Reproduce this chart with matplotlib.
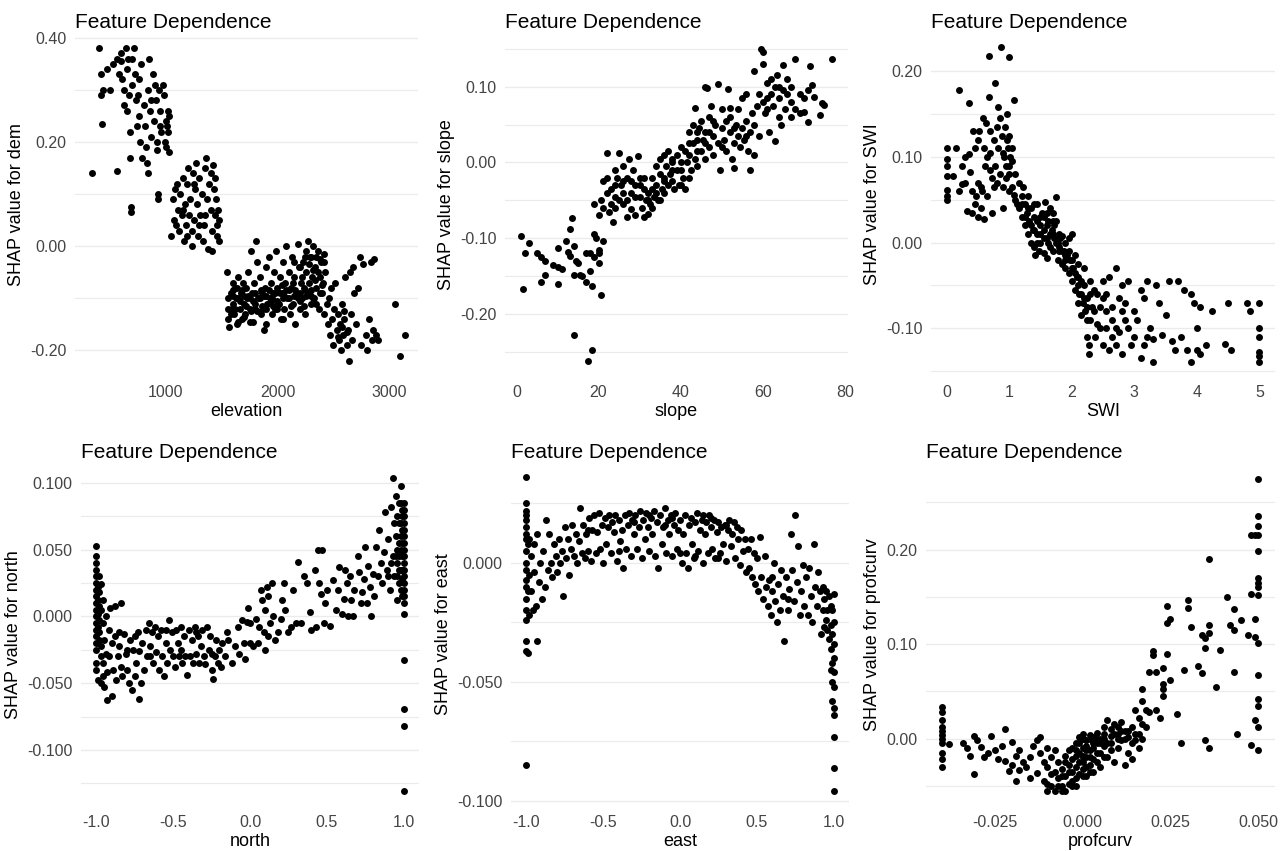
import matplotlib
matplotlib.use("Agg")
import matplotlib.pyplot as plt
from matplotlib.ticker import FixedLocator, FormatStrFormatter

plt.rcParams['font.family'] = ['Liberation Sans', 'DejaVu Sans']
plt.rcParams['axes.unicode_minus'] = False

# ---- data: (feature value, SHAP value) ----
elev_pts = [
    (336, 0.14), (400, 0.38), (420, 0.29), (420, 0.33), (430, 0.235), (440, 0.30), (470, 0.34), (500, 0.30),
    (530, 0.35), (560, 0.36), (560, 0.145), (580, 0.33), (600, 0.37), (600, 0.355), (610, 0.32), (620, 0.27),
    (640, 0.38), (650, 0.34), (650, 0.26), (660, 0.36), (670, 0.29), (680, 0.22), (680, 0.17), (690, 0.075),
    (690, 0.065), (700, 0.36), (700, 0.31), (710, 0.38), (720, 0.33), (730, 0.28), (740, 0.23), (750, 0.29),
    (760, 0.25), (770, 0.20), (780, 0.35), (790, 0.17), (800, 0.27), (810, 0.23), (820, 0.19), (830, 0.16),
    (840, 0.30), (840, 0.14), (850, 0.36), (860, 0.26), (870, 0.21), (880, 0.33), (890, 0.24), (900, 0.31),
    (910, 0.28), (920, 0.20), (920, 0.185), (930, 0.10), (930, 0.09), (940, 0.30), (950, 0.26), (960, 0.22),
    (970, 0.31), (980, 0.29), (990, 0.20), (1000, 0.24), (1000, 0.19), (1010, 0.23), (1020, 0.26), (1020, 0.22),
    (1030, 0.25), (1030, 0.18), (620, 0.30), (760, 0.32), (870, 0.28), (950, 0.23),
    (1050, 0.02), (1060, 0.09), (1070, 0.05), (1080, 0.11), (1090, 0.04), (1100, 0.12), (1110, 0.07), (1120, 0.03),
    (1130, 0.10), (1140, 0.06), (1150, 0.13), (1160, 0.01), (1170, 0.08), (1180, 0.04), (1190, 0.12), (1200, 0.15),
    (1210, 0.06), (1220, 0.09), (1230, 0.00), (1230, 0.03), (1240, 0.14), (1250, 0.05), (1260, 0.11), (1270, 0.16),
    (1280, 0.08), (1290, 0.02), (1300, 0.13), (1310, 0.06), (1320, 0.10), (1330, 0.01), (1340, 0.04), (1350, 0.15),
    (1360, 0.17), (1370, 0.09), (1380, -0.005), (1390, 0.12), (1400, 0.07), (1410, 0.03), (1420, 0.155), (1430, 0.11),
    (1440, 0.06), (1450, 0.09), (1460, 0.02), (1470, 0.07), (1480, 0.05), (1480, 0.01), (1440, 0.13), (1400, 0.14),
    (1410, -0.01), (1300, 0.04), (1150, 0.07), (1250, 0.12), (1350, 0.06), (1460, 0.04), (1190, 0.02),
    (1550, -0.05), (1560, -0.10), (1560, -0.14), (1570, -0.155), (1580, -0.09), (1590, -0.12), (1600, -0.07),
    (1600, -0.11), (1610, -0.13), (1620, -0.08), (1630, -0.10), (1640, -0.15), (1650, -0.06), (1660, -0.12),
    (1670, -0.09), (1680, -0.14), (1690, -0.07), (1700, -0.11), (1710, -0.13), (1720, -0.08), (1730, -0.10),
    (1740, -0.05), (1750, -0.12), (1760, -0.01), (1770, -0.09), (1780, -0.145), (1790, -0.07), (1800, -0.11),
    (1810, 0.01), (1820, -0.03), (1830, -0.10), (1840, -0.06), (1850, -0.13), (1860, -0.09), (1870, -0.12),
    (1880, -0.16), (1890, -0.08), (1900, -0.04), (1910, -0.11), (1920, -0.02), (1930, -0.10), (1940, -0.07),
    (1950, -0.13), (1960, -0.09), (1970, -0.05), (1980, -0.12), (1990, -0.01), (2000, -0.08), (2010, -0.11),
    (2020, -0.06), (2030, -0.14), (2040, -0.09), (2050, -0.03), (2060, -0.12), (2070, -0.07), (2080, 0.00),
    (2090, -0.10), (2100, -0.05), (2110, -0.13), (2120, -0.08), (2130, -0.02), (2140, -0.11), (2150, -0.06),
    (2160, -0.15), (2170, -0.09), (2180, 0.005), (2190, -0.04), (2200, -0.12), (2210, -0.07), (2220, -0.10),
    (2230, -0.03), (2240, -0.08), (2250, -0.13), (2260, -0.05), (2270, 0.01), (2280, -0.09), (2290, -0.02),
    (2300, -0.11), (2310, -0.06), (2320, 0.00), (2330, -0.10), (2340, -0.04), (2350, -0.08), (2360, -0.01),
    (2370, -0.12), (2380, -0.06), (2390, -0.03), (2400, -0.09), (2410, -0.07), (2420, -0.13), (2430, -0.05),
    (2440, -0.11), (1560, -0.12), (1580, -0.13), (1600, -0.095), (1620, -0.12), (1640, -0.08), (1660, -0.105),
    (1680, -0.085), (1700, -0.135), (1720, -0.115), (1740, -0.095), (1760, -0.125), (1780, -0.105), (1800, -0.09),
    (1820, -0.125), (1840, -0.10), (1860, -0.115), (1880, -0.095), (1900, -0.12), (1920, -0.085), (1940, -0.105),
    (1960, -0.115), (1980, -0.09), (2000, -0.105), (2020, -0.09), (2040, -0.075), (2060, -0.095), (2080, -0.085),
    (2100, -0.10), (2120, -0.115), (2140, -0.07), (2160, -0.085), (2180, -0.10), (2200, -0.09), (2220, -0.06),
    (2240, -0.115), (2260, -0.095), (2280, -0.07), (2300, -0.085), (2320, -0.10), (2340, -0.065), (2360, -0.05),
    (2380, -0.09), (2400, -0.075), (2420, -0.03), (2300, -0.02), (2260, -0.01), (2200, -0.04), (2150, -0.03),
    (2350, -0.02), (2420, -0.015), (1900, -0.15), (2050, -0.14), (1750, -0.145), (1650, -0.145),
    (1600, -0.085), (1650, -0.10), (1700, -0.095), (1750, -0.10), (1800, -0.12), (1850, -0.085), (1900, -0.095),
    (1950, -0.10), (2000, -0.12), (2050, -0.10), (2100, -0.085), (2150, -0.095), (2200, -0.105), (2250, -0.085),
    (2300, -0.095), (2350, -0.11), (2250, -0.02), (2280, -0.035), (2320, -0.045), (2380, -0.025),
    (2450, -0.15), (2460, -0.10), (2470, -0.17), (2480, -0.08), (2490, -0.14), (2500, -0.19), (2510, -0.12),
    (2520, -0.07), (2530, -0.16), (2540, -0.13), (2550, -0.18), (2560, -0.15), (2570, -0.20), (2580, -0.11),
    (2590, -0.17), (2600, -0.14), (2610, -0.06), (2620, -0.19), (2630, -0.16), (2640, -0.22), (2650, -0.05),
    (2660, -0.13), (2670, -0.18), (2680, -0.04), (2690, -0.09), (2700, -0.15), (2720, -0.08), (2740, -0.02),
    (2750, -0.19), (2770, -0.035), (2790, -0.17), (2800, -0.20), (2820, -0.14), (2840, -0.03), (2850, -0.18),
    (2860, -0.16), (2870, -0.025), (2880, -0.17), (2900, -0.18), (3050, -0.11), (3100, -0.21), (3140, -0.17),
    (2580, -0.155), (2620, -0.165), (2540, -0.175), (2600, -0.125),
]

slope_pts = [
    (1, -0.097), (1.5, -0.167), (2, -0.12), (3, -0.106), (5, -0.12), (6, -0.125), (6, -0.158), (7, -0.13),
    (7, -0.148), (9, -0.135), (10, -0.113), (10, -0.16), (10, -0.138), (11, -0.14), (12, -0.103), (12.5, -0.118),
    (13, -0.088), (13, -0.123), (13.5, -0.073), (14, -0.11), (14, -0.148), (14.5, -0.13), (15, -0.132),
    (15.5, -0.148), (16, -0.15), (17, -0.158), (17, -0.12), (18, -0.12), (18, -0.143), (18.5, -0.163),
    (19, -0.095), (19, -0.125), (19.5, -0.10), (20, -0.133), (20, -0.12), (20, -0.115), (20.5, -0.175),
    (21, -0.103), (19, -0.055), (14, -0.228), (18.5, -0.248), (17.5, -0.262),
    (20, -0.07), (20.5, -0.05), (21, -0.06), (21, -0.025), (22, -0.04), (22, 0.013), (22.5, -0.065),
    (23, -0.035), (23, -0.055), (23.5, -0.078), (24, -0.01), (24, -0.045), (24.5, -0.02), (25, 0.012),
    (25, -0.05), (25.5, -0.03), (26, -0.005), (26, -0.055), (27, -0.02), (27, -0.072), (27.5, 0.005),
    (28, -0.04), (28, -0.062), (28.5, -0.01), (29, -0.03), (29, -0.07), (29.5, 0.008), (30, -0.045),
    (30, -0.02), (30.5, -0.06), (31, -0.035), (31, -0.072), (31.5, -0.05), (32, -0.04), (32, -0.068),
    (32.5, -0.055), (33, -0.02), (33, -0.06), (33.5, -0.045), (34, -0.005), (34, -0.03), (34.5, -0.05),
    (35, -0.015), (35, 0.005), (35.5, -0.035), (36, -0.02), (36, 0.01), (36.5, -0.005), (37, -0.03),
    (37, 0.015), (37.5, -0.015), (38, -0.025), (38, 0.005), (38.5, -0.035), (39, 0.01), (39, -0.01),
    (39.5, -0.03), (40, 0.0), (40, 0.02), (40.5, -0.02), (41, 0.015), (41, -0.035), (41.5, 0.0),
    (42, 0.04), (42, 0.01), (42.5, -0.01), (43, 0.025), (43, 0.05), (43.5, 0.005), (44, 0.03),
    (44, -0.005), (44.5, 0.045), (45, 0.015), (45, 0.055), (45.5, 0.03), (46, 0.005), (46, 0.04),
    (46.5, 0.098), (47, 0.02), (47, 0.06), (47.5, 0.075), (48, 0.035), (48, 0.01), (48.5, 0.05),
    (49, 0.103), (49, 0.025), (49.5, -0.01), (50, 0.045), (50, 0.07), (50.5, 0.03), (51, 0.055),
    (51, 0.015), (51.5, 0.097), (52, 0.04), (52, 0.06), (52.5, 0.005), (53, 0.025), (53, -0.008),
    (53.5, 0.05), (54, 0.035), (54, 0.07), (54.5, 0.02), (55, 0.045), (55, 0.085), (55.5, 0.03),
    (56, 0.055), (56, 0.09), (56.5, 0.015), (57, 0.04), (57, -0.01), (57.5, 0.065), (58, 0.01),
    (58, 0.12), (58.5, 0.075), (59, 0.09), (59, 0.035), (59.5, 0.15), (60, 0.145), (60, 0.08),
    (60.5, 0.065), (61, 0.105), (61, 0.07), (61.5, 0.04), (62, 0.09), (62, 0.11), (62.5, 0.075),
    (63, 0.10), (63, 0.028), (63.5, 0.115), (64, 0.06), (64, 0.085), (64.5, 0.05), (65, 0.128),
    (65, 0.095), (65.5, 0.07), (66, 0.09), (66, 0.11), (67, 0.06), (67, 0.08), (68, 0.137), (68, 0.07),
    (69, 0.09), (69, 0.065), (70, 0.085), (70, 0.066), (71, 0.053), (71, 0.096), (71.5, 0.127),
    (72, 0.102), (72.5, 0.086), (74, 0.062), (74.5, 0.079), (75, 0.076), (77, 0.137), (60, 0.13),
    (46, 0.10), (43.5, 0.072), (52, 0.072), (26, -0.025), (29, -0.045), (31, -0.02), (33, -0.035),
    (36, -0.04), (38, -0.01), (40, -0.03), (42, -0.02), (44, 0.015), (47, 0.04), (50, 0.02), (53, 0.045),
    (56, 0.035), (58, 0.05), (61, 0.085), (64, 0.1), (67, 0.1), (24, -0.06), (22, -0.02), (35, -0.05),
    (30, -0.03), (32, -0.05), (34, -0.04), (36, -0.025), (38, 0.0), (40, -0.01), (42, 0.025), (44, 0.04),
    (46, 0.025), (48, 0.055), (28, -0.025), (26, -0.04), (24, -0.03), (27, -0.05),
]

swi_pts = [
    (0.0, 0.11), (0.0, 0.098), (0.0, 0.09), (0.0, 0.078), (0.0, 0.062), (0.0, 0.055), (0.0, 0.05), (0.1, 0.078),
    (0.15, 0.11), (0.2, 0.178), (0.2, 0.06), (0.25, 0.09), (0.25, 0.068), (0.3, 0.07), (0.3, 0.10), (0.33, 0.037),
    (0.35, 0.163), (0.35, 0.103), (0.38, 0.083), (0.4, 0.06), (0.4, 0.035), (0.42, 0.13), (0.45, 0.045),
    (0.45, 0.11), (0.47, 0.055), (0.5, 0.12), (0.5, 0.03), (0.5, 0.07), (0.52, 0.13), (0.55, 0.04),
    (0.57, 0.06), (0.58, 0.145), (0.6, 0.11), (0.6, 0.028), (0.62, 0.09), (0.63, 0.14), (0.65, 0.055),
    (0.65, 0.10), (0.67, 0.218), (0.68, 0.17), (0.7, 0.085), (0.7, 0.13), (0.72, 0.035), (0.72, 0.075),
    (0.75, 0.12), (0.75, 0.065), (0.78, 0.186), (0.78, 0.09), (0.8, 0.135), (0.8, 0.07), (0.82, 0.158),
    (0.82, 0.11), (0.85, 0.145), (0.85, 0.08), (0.87, 0.228), (0.88, 0.125), (0.9, 0.04), (0.9, 0.065),
    (0.92, 0.10), (0.93, 0.135), (0.95, 0.09), (0.97, 0.15), (0.98, 0.11), (1.0, 0.217), (1.0, 0.08),
    (1.0, 0.125), (1.02, 0.10), (1.05, 0.065), (1.05, 0.095), (1.07, 0.056), (1.08, 0.166), (1.1, 0.05),
    (1.1, 0.08), (1.12, 0.045), (0.96, 0.12), (0.9, 0.105), (1.0, 0.09), (0.7, 0.105), (0.55, 0.065),
    (1.15, 0.07), (1.15, 0.04), (1.2, 0.055), (1.2, 0.03), (1.22, 0.065), (1.25, 0.045), (1.25, 0.02),
    (1.28, 0.035), (1.3, 0.01), (1.3, 0.055), (1.32, 0.025), (1.35, 0.0), (1.35, 0.04), (1.38, 0.015),
    (1.4, -0.005), (1.4, 0.03), (1.42, -0.015), (1.45, 0.01), (1.45, 0.045), (1.48, -0.01), (1.5, 0.02),
    (1.5, 0.0), (1.52, 0.035), (1.55, -0.012), (1.55, 0.015), (1.58, 0.048), (1.6, 0.005), (1.6, -0.018),
    (1.62, 0.025), (1.65, 0.04), (1.65, -0.005), (1.68, 0.015), (1.7, 0.035), (1.7, -0.01), (1.72, 0.02),
    (1.75, 0.0), (1.75, 0.053), (1.78, -0.02), (1.8, 0.01), (1.8, -0.01), (1.82, 0.005), (1.85, -0.025),
    (1.85, 0.008), (1.88, -0.01), (1.9, -0.03), (1.9, 0.0), (1.92, -0.015), (1.95, -0.035), (1.95, 0.005),
    (1.98, -0.02), (2.0, -0.045), (2.0, 0.01), (2.02, -0.03), (2.05, -0.055), (2.05, -0.015), (2.08, -0.04),
    (2.1, -0.07), (2.1, -0.025), (2.12, -0.06), (2.15, -0.045), (2.15, -0.085), (2.18, -0.07), (2.2, -0.03),
    (2.2, -0.05), (2.22, -0.08), (2.25, -0.11), (2.25, -0.065), (2.27, -0.13), (2.28, -0.12), (2.3, -0.045),
    (2.3, -0.09), (2.32, -0.075), (2.35, -0.055), (2.38, -0.11), (2.4, -0.06), (2.4, -0.095),
    (1.3, 0.04), (1.45, 0.025), (1.55, 0.005), (1.6, 0.02), (1.7, 0.01), (1.8, -0.005), (1.9, -0.015),
    (2.0, -0.02), (2.1, -0.04), (2.2, -0.065), (1.4, 0.015), (1.5, 0.03), (1.65, 0.01), (1.75, 0.025),
    (1.2, 0.045), (1.25, 0.03), (1.35, 0.02), (1.4, 0.045), (1.45, 0.0), (1.5, 0.01), (1.55, 0.03),
    (1.6, 0.035), (1.62, 0.0), (1.7, 0.025), (1.72, 0.005), (1.78, 0.0), (1.85, -0.01), (1.9, -0.02),
    (1.95, -0.01), (2.0, -0.03), (2.05, -0.035), (2.1, -0.05), (2.15, -0.06), (2.25, -0.075), (2.25, -0.09),
    (2.3, -0.06), (2.35, -0.08), (2.45, -0.10), (2.55, -0.08), (2.65, -0.09), (2.7, -0.10), (2.8, -0.08),
    (2.5, -0.065), (1.0, 0.06), (1.05, 0.11), (0.95, 0.075),
    (2.45, -0.075), (2.5, -0.12), (2.5, -0.045), (2.55, -0.10), (2.55, -0.06), (2.6, -0.125), (2.6, -0.04),
    (2.65, -0.11), (2.65, -0.075), (2.7, -0.03), (2.7, -0.12), (2.75, -0.065), (2.75, -0.105), (2.8, -0.05),
    (2.8, -0.13), (2.85, -0.09), (2.85, -0.07), (2.9, -0.10), (2.9, -0.045), (2.95, -0.12), (3.0, -0.08),
    (3.0, -0.11), (3.05, -0.09), (3.1, -0.055), (3.1, -0.135), (3.15, -0.065), (3.15, -0.12), (3.2, -0.045),
    (3.2, -0.11), (3.25, -0.10), (3.3, -0.14), (3.3, -0.113), (3.35, -0.05), (3.4, -0.07), (3.45, -0.108),
    (3.5, -0.085), (3.55, -0.045), (3.6, -0.115), (3.65, -0.125), (3.7, -0.045), (3.75, -0.11), (3.8, -0.055),
    (3.85, -0.125), (3.9, -0.06), (3.9, -0.14), (3.95, -0.07), (4.0, -0.10), (4.0, -0.125), (4.05, -0.075),
    (4.05, -0.13), (4.15, -0.12), (4.25, -0.08), (4.45, -0.118), (4.5, -0.07), (4.55, -0.125), (4.8, -0.07),
    (4.85, -0.08), (5.0, -0.07), (5.0, -0.10), (5.0, -0.11), (5.0, -0.128), (5.0, -0.132), (5.0, -0.14),
]

north_pts = [
    (-1, 0.053), (-1, 0.04), (-1, 0.035), (-1, 0.025), (-1, 0.02), (-1, 0.015), (-1, 0.01), (-1, 0.005),
    (-1, 0.0), (-1, -0.005), (-1, -0.01), (-1, -0.015), (-1, -0.02), (-1, -0.025), (-0.99, -0.048),
    (-0.98, 0.018), (-0.98, 0.008), (-0.98, -0.003), (-0.98, -0.012), (-0.97, -0.022), (-0.97, -0.05),
    (-0.97, 0.024), (-0.96, 0.012), (-0.96, -0.005), (-0.96, -0.035), (-0.95, -0.018), (-0.95, -0.053),
    (-0.94, 0.0), (-0.94, -0.028), (-0.93, -0.042), (-0.93, -0.063), (-0.92, -0.01), (-0.92, -0.03),
    (-0.91, 0.006), (-0.90, -0.02), (-0.90, -0.06), (-0.89, -0.04), (-0.88, 0.008), (-0.88, -0.015),
    (-0.87, -0.048), (-0.86, -0.03), (-0.85, -0.022), (-0.84, 0.01), (-0.84, -0.038), (-0.83, -0.045),
    (-0.82, -0.013), (-0.81, -0.028), (-0.80, -0.04), (-0.79, -0.05), (-0.78, -0.018), (-0.77, -0.055),
    (-0.76, -0.025), (-0.75, -0.045), (-0.74, -0.035), (-0.73, -0.012), (-0.72, -0.062), (-0.72, -0.026),
    (-0.71, -0.05), (-0.70, -0.02), (-0.69, -0.04), (-0.68, -0.01), (-0.67, -0.03), (-0.66, -0.005),
    (-0.65, -0.022), (-0.64, -0.012), (-0.63, -0.035), (-0.62, -0.008), (-0.61, -0.027), (-0.60, -0.015),
    (-0.59, -0.04), (-0.58, -0.01), (-0.57, -0.03), (-0.56, -0.045), (-0.55, -0.02), (-0.54, -0.035),
    (-0.53, -0.003), (-0.52, -0.025), (-0.51, -0.012), (-0.50, -0.03), (-0.49, -0.038), (-0.48, -0.01),
    (-0.47, -0.02), (-0.46, -0.03), (-0.45, -0.008), (-0.44, -0.035), (-0.43, -0.015), (-0.42, -0.03),
    (-0.41, -0.044), (-0.40, -0.01), (-0.39, -0.03), (-0.38, -0.018), (-0.37, -0.035), (-0.36, -0.008),
    (-0.35, -0.028), (-0.34, -0.015), (-0.33, -0.035), (-0.32, -0.022), (-0.31, -0.01), (-0.30, -0.03),
    (-0.29, -0.036), (-0.28, -0.008), (-0.27, -0.025), (-0.26, -0.015), (-0.25, -0.04), (-0.24, -0.047),
    (-0.23, -0.03), (-0.22, -0.018), (-0.21, -0.035), (-0.20, -0.025), (-0.19, -0.038), (-0.18, -0.02),
    (-0.16, -0.03), (-0.14, -0.018), (-0.12, -0.035), (-0.10, -0.022), (-0.08, -0.008), (-0.07, -0.028),
    (-0.05, -0.003), (-0.04, -0.02), (-0.03, -0.032), (-0.02, -0.004), (-0.01, 0.006), (0.0, -0.02),
    (0.0, -0.005), (0.02, -0.022), (0.04, -0.002), (0.05, -0.02), (0.06, -0.008), (0.07, 0.02),
    (0.08, 0.012), (0.09, -0.012), (0.10, 0.005), (0.10, -0.025), (0.11, 0.022), (0.12, 0.015),
    (0.12, -0.015), (0.13, -0.005), (0.14, 0.025), (0.15, 0.0), (0.16, -0.018), (0.18, -0.012),
    (0.20, -0.002), (0.21, 0.012), (0.22, 0.025), (0.23, 0.005), (0.25, -0.012), (0.27, -0.008),
    (0.28, 0.02), (0.30, -0.005), (0.31, 0.041), (0.33, -0.005), (0.35, 0.03), (0.37, 0.025), (0.39, 0.003),
    (0.40, -0.01), (0.42, 0.035), (0.43, -0.008), (0.44, 0.05), (0.45, 0.025), (0.46, 0.017), (0.47, 0.05),
    (0.48, -0.005), (0.49, 0.01), (0.50, 0.02), (0.52, -0.007), (0.54, 0.027), (0.56, 0.005), (0.57, 0.02),
    (0.58, 0.037), (0.60, 0.002), (0.61, 0.013), (0.62, 0.035), (0.63, 0.025), (0.64, 0.0), (0.65, 0.03),
    (0.66, 0.012), (0.67, 0.0), (0.68, 0.02), (0.70, 0.045), (0.71, 0.033), (0.72, 0.01), (0.73, 0.018),
    (0.74, 0.028), (0.75, 0.052), (0.76, 0.01), (0.77, 0.038), (0.78, 0.022), (0.79, 0.0), (0.80, 0.032),
    (0.81, 0.015), (0.82, 0.052), (0.83, 0.03), (0.84, 0.065), (0.85, 0.04), (0.86, 0.025), (0.87, 0.048),
    (0.88, 0.078), (0.89, 0.035), (0.90, 0.058), (0.91, 0.02), (0.92, 0.082), (0.93, 0.045), (0.93, 0.104),
    (0.94, 0.03), (0.95, 0.09), (0.95, 0.06), (0.96, 0.04), (0.96, 0.012), (0.97, 0.07), (0.97, 0.085),
    (0.97, 0.025), (0.98, 0.098), (0.98, 0.05), (0.98, 0.035), (0.99, 0.065), (0.99, 0.015), (0.99, 0.045),
    (1.0, 0.085), (1.0, 0.075), (1.0, 0.06), (1.0, 0.055), (1.0, 0.05), (1.0, 0.04), (1.0, 0.03),
    (1.0, 0.02), (1.0, 0.01), (1.0, 0.0015), (1.0, -0.033), (1.0, -0.069), (1.0, -0.082), (1.0, -0.131),
    (0.99, 0.08), (0.98, 0.07), (0.99, 0.028), (0.97, 0.055), (0.96, 0.075), (-0.99, 0.012), (-0.99, -0.008),
    (-0.98, -0.018), (-0.99, 0.002), (-0.97, 0.005), (-0.85, -0.012), (-0.80, -0.025), (-0.75, -0.015),
    (-0.65, -0.03), (-0.55, -0.01), (-0.45, -0.025), (-0.35, -0.012), (-0.25, -0.028), (-0.15, -0.012),
    (1.0, 0.08), (1.0, 0.07), (1.0, 0.065), (1.0, 0.045), (1.0, 0.035), (1.0, 0.025), (1.0, 0.015),
    (0.99, 0.055), (0.99, 0.035), (0.99, 0.075), (0.98, 0.06), (0.98, 0.085), (0.98, 0.02), (0.97, 0.045),
    (0.97, 0.035), (0.96, 0.05), (0.96, 0.03), (0.95, 0.045), (0.94, 0.07), (0.92, 0.04), (0.90, 0.03),
    (-1, 0.045), (-1, 0.03), (-1, -0.035), (-1, -0.04), (-0.99, 0.022), (-0.99, -0.02), (-0.98, 0.03),
    (-0.97, -0.03), (-0.96, -0.045),
]

east_pts = [
    (-1, 0.036), (-1, 0.025), (-1, 0.022), (-1, 0.02), (-1, 0.018), (-1, 0.012), (-1, 0.01), (-1, 0.005),
    (-1, 0.0), (-1, -0.003), (-1, -0.007), (-1, -0.01), (-1, -0.015), (-1, -0.024), (-1, -0.033),
    (-1, -0.037), (-0.99, -0.038), (-1, -0.085), (-0.98, 0.01), (-0.97, 0.003), (-0.97, -0.012),
    (-0.96, -0.02), (-0.95, 0.008), (-0.95, -0.004), (-0.94, -0.018), (-0.93, 0.012), (-0.93, -0.033),
    (-0.92, -0.008), (-0.91, 0.0), (-0.90, -0.015), (-0.89, 0.005), (-0.88, -0.01), (-0.87, 0.018),
    (-0.86, -0.003), (-0.85, 0.012), (-0.84, 0.0), (-0.83, -0.006), (-0.82, 0.008), (-0.81, 0.003),
    (-0.80, -0.004), (-0.79, 0.01), (-0.78, 0.0), (-0.77, 0.005), (-0.76, -0.014), (-0.75, 0.015),
    (-0.74, 0.002), (-0.73, 0.01), (-0.72, -0.005), (-0.71, 0.006), (-0.70, 0.016), (-0.69, 0.003),
    (-0.68, 0.012), (-0.67, 0.0), (-0.66, 0.009), (-0.65, 0.023), (-0.64, 0.004), (-0.63, 0.016),
    (-0.62, 0.002), (-0.61, 0.012), (-0.60, 0.005), (-0.59, 0.019), (-0.58, 0.001), (-0.57, 0.014),
    (-0.56, 0.02), (-0.55, 0.004), (-0.54, 0.013), (-0.53, 0.021), (-0.52, 0.006), (-0.51, 0.016),
    (-0.50, 0.0), (-0.49, 0.019), (-0.48, 0.008), (-0.47, 0.015), (-0.46, 0.02), (-0.45, 0.004),
    (-0.44, 0.017), (-0.43, 0.013), (-0.42, 0.02), (-0.41, 0.001), (-0.40, 0.018), (-0.39, 0.009),
    (-0.38, 0.014), (-0.37, -0.002), (-0.36, 0.02), (-0.35, 0.006), (-0.34, 0.016), (-0.33, 0.021),
    (-0.32, 0.003), (-0.31, 0.018), (-0.30, 0.012), (-0.29, 0.02), (-0.28, 0.006), (-0.27, 0.015),
    (-0.26, 0.022), (-0.25, 0.002), (-0.24, 0.018), (-0.23, 0.01), (-0.22, 0.021), (-0.21, 0.015),
    (-0.20, 0.005), (-0.19, 0.019), (-0.18, 0.012), (-0.17, 0.022), (-0.16, 0.003), (-0.15, 0.017),
    (-0.14, -0.002), (-0.13, 0.02), (-0.12, 0.008), (-0.11, 0.015), (-0.10, 0.023), (-0.09, 0.004),
    (-0.08, 0.018), (-0.07, 0.012), (-0.06, 0.02), (-0.05, 0.003), (-0.04, 0.016), (-0.03, 0.021),
    (-0.02, 0.006), (-0.01, 0.014), (0.0, 0.018), (0.01, 0.0), (0.02, 0.012), (0.03, 0.02), (0.04, 0.004),
    (0.05, -0.002), (0.06, 0.016), (0.07, 0.019), (0.08, 0.008), (0.09, 0.002), (0.10, 0.017), (0.11, 0.021),
    (0.12, 0.005), (0.13, 0.014), (0.14, 0.018), (0.15, 0.0), (0.16, 0.012), (0.17, 0.017), (0.18, 0.004),
    (0.19, 0.02), (0.20, 0.015), (0.21, 0.006), (0.22, 0.018), (0.23, 0.002), (0.24, 0.013), (0.25, 0.017),
    (0.26, 0.004), (0.27, 0.015), (0.28, 0.008), (0.29, 0.016), (0.30, 0.001), (0.31, 0.014), (0.32, 0.018),
    (0.33, 0.007), (0.34, 0.012), (0.35, 0.017), (0.36, 0.002), (0.37, 0.015), (0.38, 0.01), (0.39, -0.001),
    (0.40, 0.014), (0.41, 0.005), (0.42, 0.01), (0.43, -0.004), (0.44, 0.006), (0.45, -0.002), (0.46, 0.01),
    (0.47, -0.006), (0.48, 0.004), (0.49, -0.009), (0.50, 0.002), (0.51, -0.012), (0.52, 0.011),
    (0.53, -0.006), (0.54, -0.015), (0.55, 0.003), (0.56, -0.01), (0.57, -0.018), (0.58, -0.007),
    (0.59, -0.022), (0.60, -0.012), (0.61, 0.0), (0.62, -0.016), (0.63, -0.025), (0.64, -0.009),
    (0.65, -0.02), (0.66, -0.003), (0.67, -0.014), (0.68, -0.033), (0.69, -0.006), (0.70, -0.02),
    (0.71, -0.011), (0.72, 0.012), (0.73, -0.003), (0.74, -0.016), (0.75, 0.02), (0.76, -0.008),
    (0.77, 0.007), (0.78, -0.022), (0.79, -0.012), (0.80, -0.001), (0.81, -0.018), (0.82, -0.006),
    (0.83, -0.022), (0.84, -0.002), (0.85, -0.014), (0.86, -0.025), (0.87, 0.008), (0.88, -0.01),
    (0.89, -0.018), (0.90, -0.004), (0.91, -0.012), (0.92, -0.03), (0.93, -0.02), (0.94, -0.015),
    (0.95, -0.024), (0.96, -0.028), (0.97, -0.032), (0.97, -0.014), (0.98, -0.036), (0.98, -0.045),
    (0.98, -0.026), (0.99, -0.042), (0.99, -0.05), (0.99, -0.03), (1.0, -0.013), (1.0, -0.034),
    (1.0, -0.046), (1.0, -0.052), (1.0, -0.061), (1.0, -0.064), (1.0, -0.073), (1.0, -0.086), (1.0, -0.096),
    (-0.3, 0.017), (-0.2, 0.02), (-0.1, 0.016), (0.0, 0.004), (0.1, 0.003), (0.2, 0.019), (0.3, 0.016),
    (-0.4, 0.005), (-0.6, 0.014), (0.15, 0.02), (0.25, 0.002), (-0.05, 0.019), (0.6, -0.006), (0.7, -0.015),
    (0.99, -0.02), (0.98, -0.018), (1.0, -0.025), (1.0, -0.04), (0.99, -0.058), (0.96, -0.02), (0.95, -0.012),
    (0.93, -0.01), (0.94, -0.027), (-1, 0.015), (-1, -0.02), (-0.99, 0.008), (-0.99, -0.012), (-0.98, -0.005),
    (-0.98, -0.022),
]

profcurv_pts = [
    (-0.040, 0.033), (-0.040, 0.028), (-0.040, 0.02), (-0.040, 0.012), (-0.040, 0.008), (-0.040, 0.004),
    (-0.040, 0.0), (-0.040, -0.005), (-0.040, -0.015), (-0.040, -0.022), (-0.040, -0.030),
    (-0.038, -0.006), (-0.034, -0.005), (-0.033, -0.01), (-0.032, -0.018), (-0.031, 0.003), (-0.031, -0.037),
    (-0.030, -0.001), (-0.029, -0.009), (-0.028, -0.02), (-0.027, -0.015), (-0.026, 0.003), (-0.025, -0.012),
    (-0.024, -0.022), (-0.023, -0.008), (-0.022, -0.024), (-0.022, 0.01), (-0.021, -0.034), (-0.020, -0.028),
    (-0.020, -0.004), (-0.019, -0.045), (-0.019, -0.018), (-0.018, -0.033), (-0.018, -0.012), (-0.017, -0.025),
    (-0.016, -0.03), (-0.015, -0.02), (-0.015, -0.042), (-0.014, -0.008), (-0.013, -0.036), (-0.013, -0.002),
    (-0.012, -0.015), (-0.012, 0.002), (-0.011, -0.025), (-0.011, -0.045), (-0.010, -0.01), (-0.010, -0.048),
    (-0.010, -0.03), (-0.009, -0.02), (-0.009, -0.038), (-0.008, -0.055), (-0.008, -0.012), (-0.007, -0.042),
    (-0.007, -0.025), (-0.006, -0.05), (-0.006, -0.032), (-0.006, -0.055), (-0.005, -0.018), (-0.005, -0.04),
    (-0.004, -0.028), (-0.004, -0.048), (-0.003, -0.01), (-0.003, -0.035), (-0.003, -0.022), (-0.002, -0.042),
    (-0.002, -0.005), (-0.002, -0.03), (-0.001, -0.015), (-0.001, -0.038), (-0.001, 0.002), (0.0, -0.025),
    (0.0, -0.01), (0.0, -0.04), (0.0, 0.005), (0.0, -0.018), (0.001, -0.03), (0.001, -0.002), (0.001, -0.02),
    (0.002, 0.004), (0.002, -0.012), (0.002, -0.028), (0.003, -0.005), (0.003, -0.022), (0.004, 0.006),
    (0.004, -0.015), (0.005, 0.0), (0.005, -0.03), (0.006, 0.012), (0.006, -0.008), (0.007, -0.02),
    (0.007, 0.02), (0.008, 0.003), (0.008, -0.012), (0.009, 0.015), (0.009, -0.025), (0.010, 0.005),
    (0.010, -0.01), (0.011, 0.018), (0.011, -0.002), (0.012, -0.028), (0.012, 0.008), (0.013, -0.015),
    (0.013, 0.002), (0.014, 0.012), (0.014, -0.022), (0.015, 0.005), (0.015, 0.03), (0.016, -0.01),
    (0.016, 0.022), (0.017, 0.0), (0.017, 0.052), (0.017, 0.04), (0.018, 0.03), (0.018, 0.012),
    (0.019, 0.07), (0.019, 0.028), (0.020, 0.093), (0.020, 0.088), (0.021, 0.07), (0.021, 0.03),
    (0.022, 0.022), (0.023, 0.058), (0.023, 0.075), (0.023, 0.045), (0.023, 0.052), (0.024, 0.14),
    (0.024, 0.122), (0.024, 0.089), (0.025, 0.062), (0.025, 0.127), (0.027, 0.026), (0.028, -0.005),
    (0.029, 0.073), (0.030, 0.138), (0.030, 0.147), (0.031, 0.118), (0.033, 0.077), (0.034, 0.069),
    (0.034, 0.11), (0.035, 0.106), (0.035, 0.096), (0.035, -0.002), (0.036, 0.19), (0.036, 0.12),
    (0.036, 0.112), (0.036, -0.01), (0.038, 0.055), (0.039, 0.094), (0.041, 0.15), (0.042, 0.12),
    (0.043, 0.137), (0.043, 0.115), (0.043, 0.07), (0.044, 0.005), (0.045, 0.125), (0.047, 0.11),
    (0.048, 0.153), (0.048, -0.007), (0.049, 0.126), (0.049, 0.107), (0.049, 0.02), (0.050, 0.275),
    (0.050, 0.235), (0.050, 0.225), (0.050, 0.215), (0.050, 0.198), (0.050, 0.17), (0.050, 0.165),
    (0.050, 0.16), (0.050, 0.152), (0.050, 0.101), (0.050, 0.067), (0.050, 0.042), (0.050, 0.034),
    (0.050, 0.012), (0.050, -0.012), (0.049, 0.215), (0.048, 0.215),
    (-0.005, -0.025), (-0.004, -0.012), (-0.003, -0.045), (-0.002, -0.018), (-0.001, -0.025), (0.0, -0.032),
    (0.001, -0.012), (0.002, -0.02), (0.003, -0.01), (0.004, -0.005), (0.005, -0.015), (0.006, 0.0),
    (0.007, -0.005), (0.008, 0.01), (-0.006, -0.04), (-0.007, -0.05), (-0.008, -0.035), (0.003, -0.035),
    (-0.002, -0.05), (0.001, -0.04), (0.009, 0.005), (0.010, 0.012), (0.012, 0.0), (0.014, -0.005),
    (-0.004, -0.035), (-0.003, -0.05), (0.0, -0.02), (0.001, -0.008), (0.002, -0.035), (0.003, 0.002),
    (0.004, -0.025), (0.005, -0.005), (0.006, -0.02), (-0.001, -0.005), (-0.002, -0.012), (0.0, 0.0),
    (0.002, 0.0), (0.004, 0.0), (0.006, 0.005), (0.008, -0.005), (0.010, 0.0), (0.011, 0.008),
    (0.013, 0.008), (0.015, -0.002), (0.016, 0.005), (0.017, 0.015), (-0.009, -0.05), (-0.010, -0.055),
    (-0.005, -0.055),
]

panels = [
    (elev_pts, "elevation", "SHAP value for dem", (75, 32, 418, 377), (185, 3260), (-0.251, 0.411),
     [1000, 2000, 3000], "%d", [-0.2, 0.0, 0.2, 0.4], [-0.1, 0.1, 0.3], "%.2f"),
    (slope_pts, "slope", "SHAP value for slope", (505, 32, 848, 377), (-2.8, 80.8), (-0.283, 0.172),
     [0, 20, 40, 60, 80], "%d", [-0.2, -0.1, 0.0, 0.1], [-0.25, -0.15, -0.05, 0.05, 0.15], "%.2f"),
    (swi_pts, "SWI", "SHAP value for SWI", (931, 32, 1275, 377), (-0.25, 5.25), (-0.157, 0.246),
     [0, 1, 2, 3, 4, 5], "%d", [-0.1, 0.0, 0.1, 0.2], [-0.15, -0.05, 0.05, 0.15], "%.2f"),
    (north_pts, "north", "SHAP value for north", (81, 462, 419, 807), (-1.1, 1.1), (-0.1428, 0.1157),
     [-1.0, -0.5, 0.0, 0.5, 1.0], "%.1f", [-0.1, -0.05, 0.0, 0.05, 0.1],
     [-0.125, -0.075, -0.025, 0.025, 0.075], "%.3f"),
    (east_pts, "east", "SHAP value for east", (511, 462, 849, 807), (-1.1, 1.1), (-0.1026, 0.0424),
     [-1.0, -0.5, 0.0, 0.5, 1.0], "%.1f", [-0.1, -0.05, 0.0], [-0.075, -0.025, 0.025], "%.3f"),
    (profcurv_pts, "profcurv", "SHAP value for profcurv", (926, 462, 1275, 807), (-0.0446, 0.0548),
     (-0.0724, 0.2926), [-0.025, 0.0, 0.025, 0.05], "%.3f", [0.0, 0.1, 0.2],
     [-0.05, 0.05, 0.15, 0.25], "%.2f"),
]

W, H = 1287, 851
fig = plt.figure(figsize=(W / 100, H / 100), dpi=100)
fig.patch.set_facecolor("white")

for pts, xlab, ylab, box, xlim, ylim, xt, xfmt, yt, ymin, yfmt in panels:
    l, t, r, b = box
    ax = fig.add_axes([l / W, 1 - b / H, (r - l) / W, (b - t) / H])
    xs = [p[0] for p in pts]
    ys = [p[1] for p in pts]
    ax.scatter(xs, ys, s=25, color="black", linewidths=0, zorder=3)
    ax.set_xlim(*xlim)
    ax.set_ylim(*ylim)
    ax.xaxis.set_major_locator(FixedLocator(xt))
    ax.xaxis.set_major_formatter(FormatStrFormatter(xfmt))
    ax.yaxis.set_major_locator(FixedLocator(yt))
    ax.yaxis.set_minor_locator(FixedLocator(ymin))
    ax.yaxis.set_major_formatter(FormatStrFormatter(yfmt))
    ax.grid(axis="y", which="major", color="#EBEBEB", linewidth=1.0, zorder=0)
    ax.grid(axis="y", which="minor", color="#EBEBEB", linewidth=0.8, zorder=0)
    ax.grid(axis="x", which="both", visible=False)
    for s in ax.spines.values():
        s.set_visible(False)
    ax.tick_params(which="both", length=0, labelsize=11.5, labelcolor="#444444")
    ax.tick_params(axis="x", pad=6)
    ax.tick_params(axis="y", pad=6)
    ax.set_xlabel(xlab, fontsize=13, labelpad=2)
    ax.set_ylabel(ylab, fontsize=13, labelpad=4)
    ax.set_title("Feature Dependence", loc="left", fontsize=15, pad=2)

fig.savefig("out.png", dpi=100, facecolor="white")
